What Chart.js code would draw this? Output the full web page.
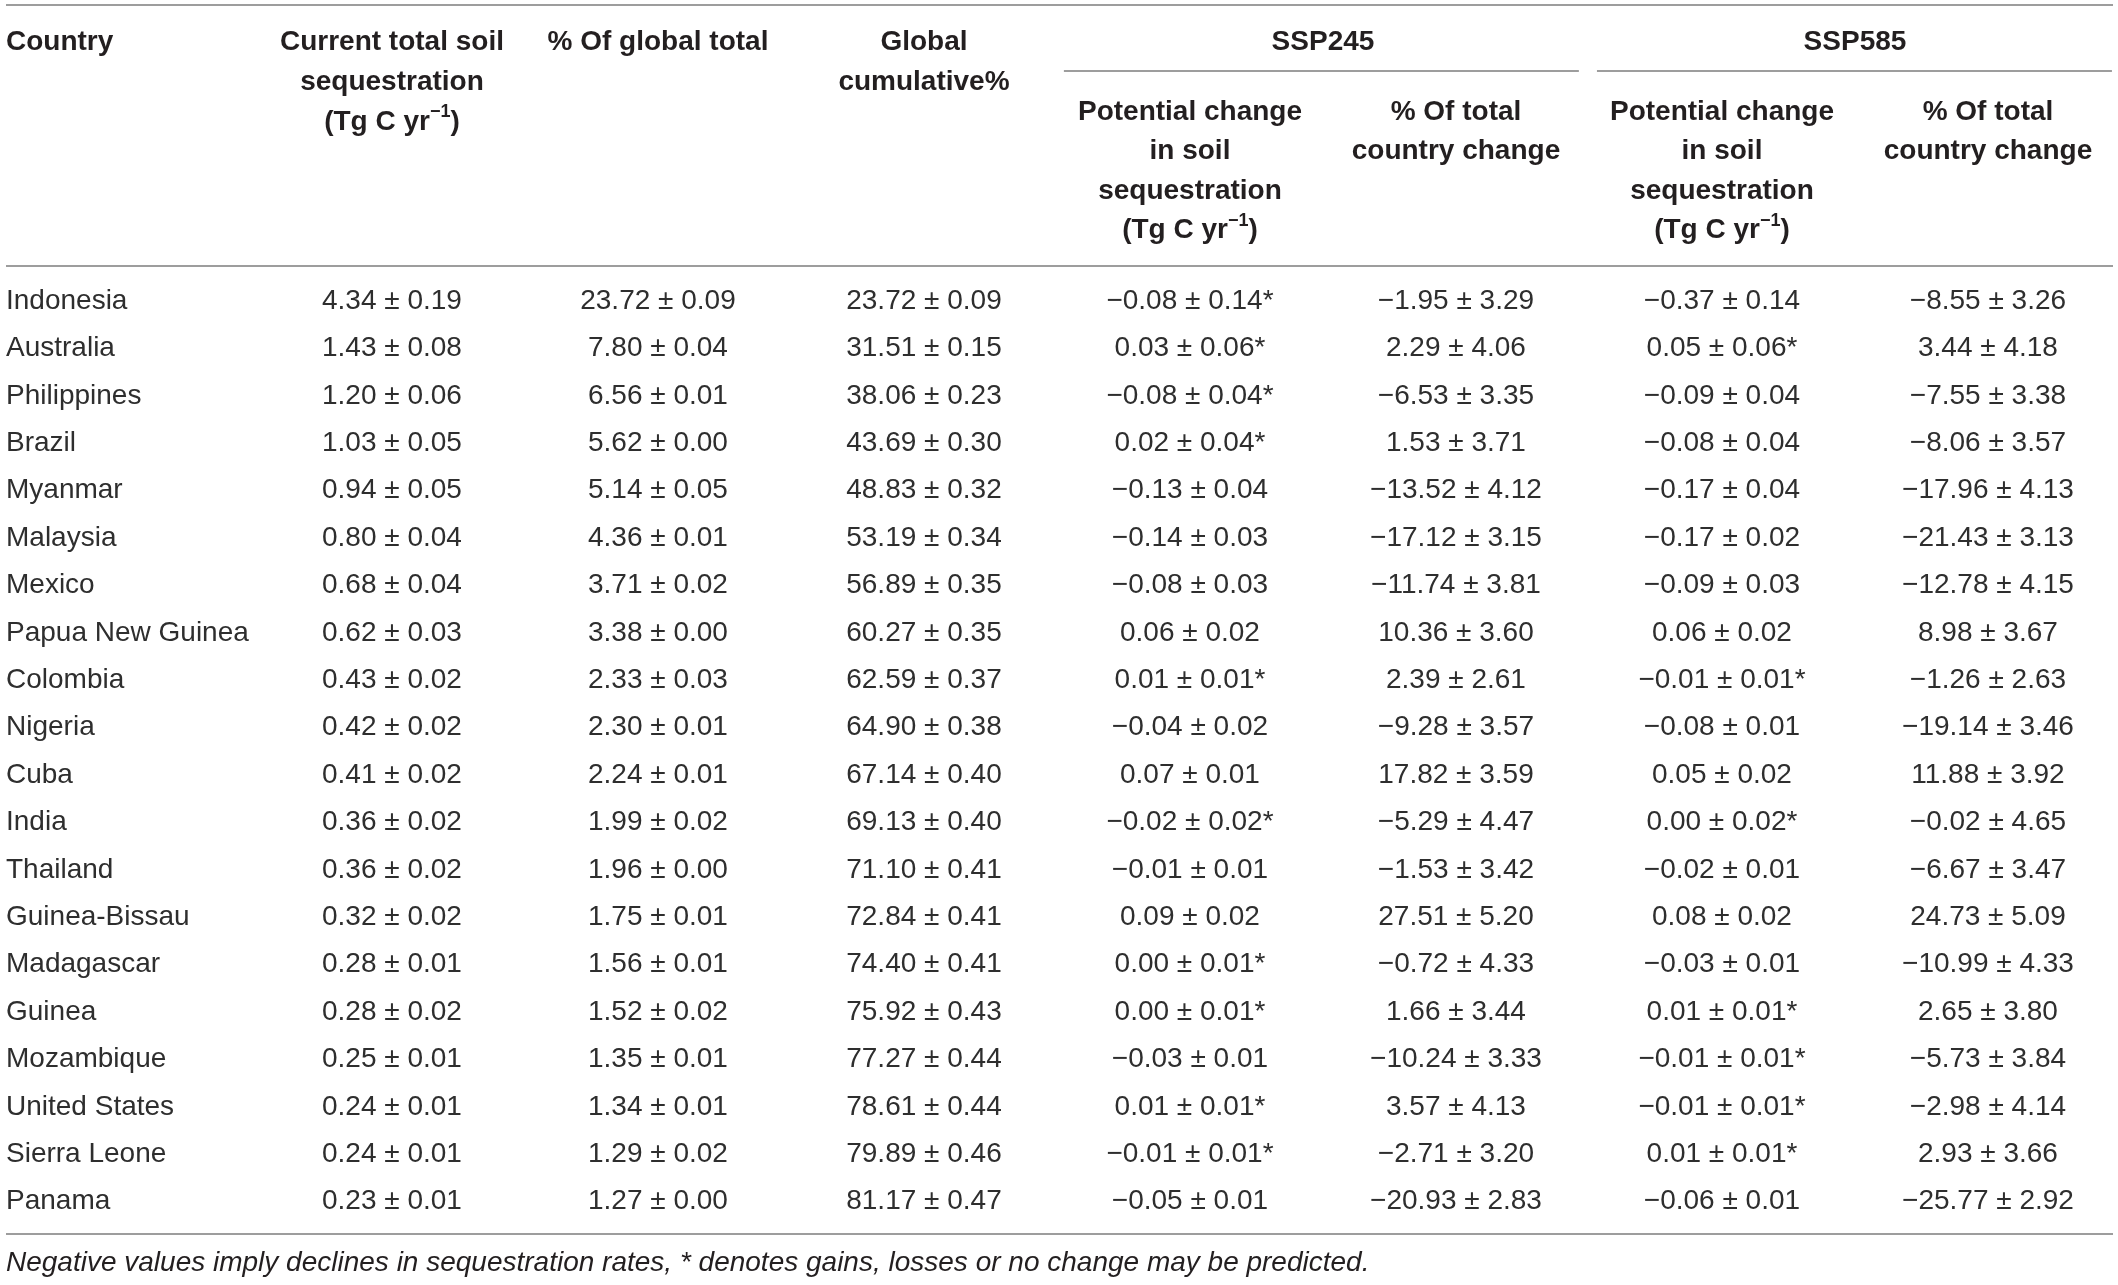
<!DOCTYPE html>
<html>
<head>
<meta charset="utf-8">
<script src="https://cdn.jsdelivr.net/npm/chart.js@4.4.2/dist/chart.umd.min.js"></script>
<style>
  html, body { margin: 0; padding: 0; background: #ffffff; }
</style>
</head>
<body>
<canvas id="soilTable" width="2118" height="1285"></canvas>
<script>
// table values (mean, ± error)
const countries = [
  'Indonesia', 'Australia', 'Philippines', 'Brazil', 'Myanmar', 'Malaysia', 'Mexico',
  'Papua New Guinea', 'Colombia', 'Nigeria', 'Cuba', 'India', 'Thailand', 'Guinea-Bissau',
  'Madagascar', 'Guinea', 'Mozambique', 'United States', 'Sierra Leone', 'Panama'
];
const currentTotal = [
  [4.34, 0.19], [1.43, 0.08], [1.20, 0.06], [1.03, 0.05], [0.94, 0.05], [0.80, 0.04], [0.68, 0.04],
  [0.62, 0.03], [0.43, 0.02], [0.42, 0.02], [0.41, 0.02], [0.36, 0.02], [0.36, 0.02], [0.32, 0.02],
  [0.28, 0.01], [0.28, 0.02], [0.25, 0.01], [0.24, 0.01], [0.24, 0.01], [0.23, 0.01]
];
const globalShare = [
  [23.72, 0.09], [7.80, 0.04], [6.56, 0.01], [5.62, 0.00], [5.14, 0.05], [4.36, 0.01], [3.71, 0.02],
  [3.38, 0.00], [2.33, 0.03], [2.30, 0.01], [2.24, 0.01], [1.99, 0.02], [1.96, 0.00], [1.75, 0.01],
  [1.56, 0.01], [1.52, 0.02], [1.35, 0.01], [1.34, 0.01], [1.29, 0.02], [1.27, 0.00]
];
const globalCumulative = [
  [23.72, 0.09], [31.51, 0.15], [38.06, 0.23], [43.69, 0.30], [48.83, 0.32], [53.19, 0.34], [56.89, 0.35],
  [60.27, 0.35], [62.59, 0.37], [64.90, 0.38], [67.14, 0.40], [69.13, 0.40], [71.10, 0.41], [72.84, 0.41],
  [74.40, 0.41], [75.92, 0.43], [77.27, 0.44], [78.61, 0.44], [79.89, 0.46], [81.17, 0.47]
];
const ssp245Change = [
  [-0.08, 0.14], [0.03, 0.06], [-0.08, 0.04], [0.02, 0.04], [-0.13, 0.04], [-0.14, 0.03], [-0.08, 0.03],
  [0.06, 0.02], [0.01, 0.01], [-0.04, 0.02], [0.07, 0.01], [-0.02, 0.02], [-0.01, 0.01], [0.09, 0.02],
  [0.00, 0.01], [0.00, 0.01], [-0.03, 0.01], [0.01, 0.01], [-0.01, 0.01], [-0.05, 0.01]
];
const ssp245Uncertain = [1, 1, 1, 1, 0, 0, 0, 0, 1, 0, 0, 1, 0, 0, 1, 1, 0, 1, 1, 0];
const ssp245Percent = [
  [-1.95, 3.29], [2.29, 4.06], [-6.53, 3.35], [1.53, 3.71], [-13.52, 4.12], [-17.12, 3.15], [-11.74, 3.81],
  [10.36, 3.60], [2.39, 2.61], [-9.28, 3.57], [17.82, 3.59], [-5.29, 4.47], [-1.53, 3.42], [27.51, 5.20],
  [-0.72, 4.33], [1.66, 3.44], [-10.24, 3.33], [3.57, 4.13], [-2.71, 3.20], [-20.93, 2.83]
];
const ssp585Change = [
  [-0.37, 0.14], [0.05, 0.06], [-0.09, 0.04], [-0.08, 0.04], [-0.17, 0.04], [-0.17, 0.02], [-0.09, 0.03],
  [0.06, 0.02], [-0.01, 0.01], [-0.08, 0.01], [0.05, 0.02], [0.00, 0.02], [-0.02, 0.01], [0.08, 0.02],
  [-0.03, 0.01], [0.01, 0.01], [-0.01, 0.01], [-0.01, 0.01], [0.01, 0.01], [-0.06, 0.01]
];
const ssp585Uncertain = [0, 1, 0, 0, 0, 0, 0, 0, 1, 0, 0, 1, 0, 0, 0, 1, 1, 1, 1, 0];
const ssp585Percent = [
  [-8.55, 3.26], [3.44, 4.18], [-7.55, 3.38], [-8.06, 3.57], [-17.96, 4.13], [-21.43, 3.13], [-12.78, 4.15],
  [8.98, 3.67], [-1.26, 2.63], [-19.14, 3.46], [11.88, 3.92], [-0.02, 4.65], [-6.67, 3.47], [24.73, 5.09],
  [-10.99, 4.33], [2.65, 3.80], [-5.73, 3.84], [-2.98, 4.14], [2.93, 3.66], [-25.77, 2.92]
];

// header texts, '^' toggles superscript
const columnHeaders = [
  ['Country'],
  ['Current total soil', 'sequestration', '(Tg C yr^\u22121^)'],
  ['% Of global total'],
  ['Global', 'cumulative%']
];
const scenarioNames = ['SSP245', 'SSP585'];
const scenarioHeaders = [
  ['Potential change', 'in soil', 'sequestration', '(Tg C yr^\u22121^)'],
  ['% Of total', 'country change']
];
const footnote = 'Negative values imply declines in sequestration rates, * denotes gains, losses or no change may be predicted.';

const FAMILY = '"Liberation Sans", Arial, Helvetica, sans-serif';
const INK = '#231f20';
const BODY_INK = '#2e2e2e';
const RULE = '#9d9d9d';

const fmt = (v) => (v < 0 ? '\u2212' : '') + Math.abs(v).toFixed(2);
const cell = (pair, star) => fmt(pair[0]) + ' \u00b1 ' + pair[1].toFixed(2) + (star ? '*' : '');

const columns = [
  countries,
  currentTotal.map((p) => cell(p, 0)),
  globalShare.map((p) => cell(p, 0)),
  globalCumulative.map((p) => cell(p, 0)),
  ssp245Change.map((p, i) => cell(p, ssp245Uncertain[i])),
  ssp245Percent.map((p) => cell(p, 0)),
  ssp585Change.map((p, i) => cell(p, ssp585Uncertain[i])),
  ssp585Percent.map((p) => cell(p, 0))
];

function drawRich(ctx, text, x, y, align, size, weight) {
  const parts = text.split('^');
  const fonts = parts.map((_, k) => (k % 2 ? `${weight} ${Math.round(size * 0.64)}px ${FAMILY}` : `${weight} ${size}px ${FAMILY}`));
  let total = 0;
  const widths = parts.map((p, k) => {
    ctx.font = fonts[k];
    const w = ctx.measureText(p).width;
    total += w;
    return w;
  });
  let cx = align === 'left' ? x : x - total / 2;
  ctx.textAlign = 'left';
  parts.forEach((p, k) => {
    ctx.font = fonts[k];
    ctx.fillText(p, cx, k % 2 ? y - size * 0.36 : y);
    cx += widths[k];
  });
}

const tablePlugin = {
  id: 'tablePlugin',
  afterDatasetsDraw(chart) {
    const { ctx, chartArea, scales: { x, y } } = chart;
    ctx.save();
    ctx.textBaseline = 'middle';

    // rules
    ctx.strokeStyle = RULE;
    ctx.lineWidth = 2;
    const hline = (v, a, b) => {
      const py = Math.round(y.getPixelForValue(v));
      ctx.beginPath();
      ctx.moveTo(a, py);
      ctx.lineTo(b, py);
      ctx.stroke();
    };
    hline(y.min, chartArea.left, chartArea.right);
    hline(-0.738, chartArea.left, chartArea.right);
    hline(y.max, chartArea.left, chartArea.right);
    hline(-4.852, x.getPixelForValue(3.526), x.getPixelForValue(5.462));
    hline(-4.852, x.getPixelForValue(5.53), x.getPixelForValue(7.466));

    // header
    ctx.fillStyle = INK;
    columnHeaders.forEach((lines, c) => {
      lines.forEach((line, k) => {
        const py = y.getPixelForValue(-5.464 + k * 0.844);
        if (c === 0) drawRich(ctx, line, chartArea.left, py, 'left', 28, 'bold');
        else drawRich(ctx, line, x.getPixelForValue(c), py, 'center', 28, 'bold');
      });
    });
    scenarioNames.forEach((name, s) => {
      const mid = x.getPixelForValue(4.5 + s * 2);
      drawRich(ctx, name, mid, y.getPixelForValue(-5.464), 'center', 28, 'bold');
      scenarioHeaders.forEach((lines, j) => {
        lines.forEach((line, k) => {
          drawRich(ctx, line, x.getPixelForValue(4 + s * 2 + j), y.getPixelForValue(-3.987 + k * 0.834), 'center', 28, 'bold');
        });
      });
    });

    // body cells, placed at the dataset points
    ctx.fillStyle = BODY_INK;
    ctx.font = `28px ${FAMILY}`;
    chart.data.datasets.forEach((ds, c) => {
      const meta = chart.getDatasetMeta(c);
      meta.data.forEach((pt, i) => {
        if (c === 0) {
          ctx.textAlign = 'left';
          ctx.fillText(ds.cellText[i], chartArea.left, pt.y);
        } else {
          ctx.textAlign = 'center';
          ctx.fillText(ds.cellText[i], pt.x, pt.y);
        }
      });
    });

    // footnote
    ctx.fillStyle = INK;
    ctx.textAlign = 'left';
    ctx.font = `italic 28px ${FAMILY}`;
    ctx.fillText(footnote, chartArea.left, y.getPixelForValue(20.3));
    ctx.restore();
  }
};

new Chart(document.getElementById('soilTable'), {
  type: 'scatter',
  data: {
    datasets: columns.map((col, c) => ({
      label: 'col' + c,
      data: col.map((_, i) => ({ x: c, y: i })),
      cellText: col,
      pointRadius: 0,
      pointHoverRadius: 0
    }))
  },
  options: {
    responsive: false,
    animation: false,
    events: [],
    layout: { padding: { left: 6, right: 5, top: 5, bottom: 51 } },
    plugins: {
      legend: { display: false },
      tooltip: { enabled: false }
    },
    scales: {
      x: { type: 'linear', display: false, min: -0.451, max: 7.47 },
      y: { type: 'linear', display: false, reverse: true, min: -6.245, max: 19.683 }
    }
  },
  plugins: [tablePlugin]
});
</script>
</body>
</html>
